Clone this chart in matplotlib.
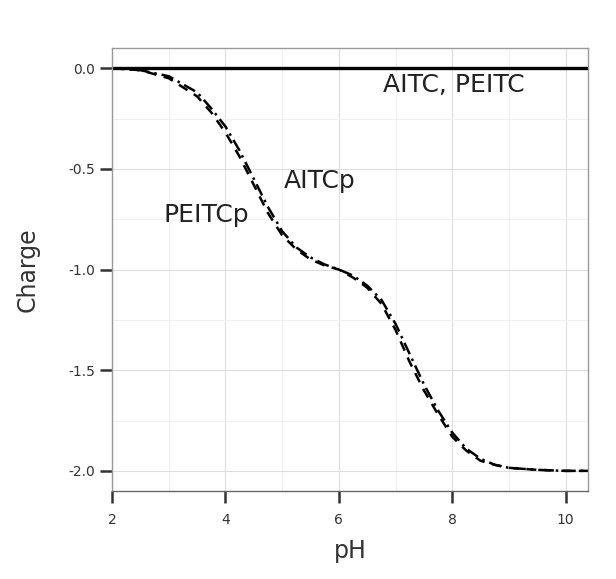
import matplotlib.pyplot as plt
from matplotlib.ticker import MultipleLocator

# pH grid and charge curves
ph = [2.0, 2.5, 3.0, 3.5, 3.75, 4.0, 4.25, 4.5, 4.75, 5.0, 5.25, 5.5, 5.75, 6.0,
      6.25, 6.5, 6.75, 7.0, 7.25, 7.5, 7.75, 8.0, 8.25, 8.5, 8.75, 9.0, 9.5, 10.0, 10.4]
charge_aitc = [0.0] * len(ph)
charge_aitcp = [0.0, -0.01, -0.05, -0.14, -0.22, -0.32, -0.44, -0.58, -0.72, -0.83,
                -0.90, -0.95, -0.98, -1.00, -1.04, -1.09, -1.17, -1.30, -1.46, -1.60,
                -1.72, -1.83, -1.90, -1.95, -1.97, -1.985, -1.995, -2.0, -2.0]
charge_peitcp = [0.0, -0.01, -0.04, -0.12, -0.20, -0.29, -0.41, -0.55, -0.69, -0.81,
                 -0.89, -0.94, -0.975, -1.00, -1.03, -1.08, -1.15, -1.27, -1.42, -1.57,
                 -1.70, -1.81, -1.89, -1.94, -1.97, -1.985, -1.995, -2.0, -2.0]

fig = plt.figure(figsize=(6.16, 5.79), dpi=100)
ax = fig.add_axes([0.182, 0.152, 0.773, 0.765])

ax.plot(ph, charge_aitc, color="black", lw=2.4, solid_capstyle="butt")
ax.plot(ph, charge_aitcp, color="black", lw=1.8, linestyle=(0, (4, 3)))
ax.plot(ph, charge_peitcp, color="black", lw=1.8, linestyle=(0, (5, 2, 1, 2)))

ax.text(8.03, -0.085, "AITC, PEITC", fontsize=18, ha="center", va="center", color="#222222")
ax.text(5.66, -0.56, "AITCp", fontsize=18, ha="center", va="center", color="#222222")
ax.text(3.67, -0.73, "PEITCp", fontsize=18, ha="center", va="center", color="#222222")

ax.set_xlim(2, 10.4)
ax.set_ylim(-2.1, 0.1)
ax.xaxis.set_minor_locator(MultipleLocator(1))
ax.yaxis.set_minor_locator(MultipleLocator(0.25))
ax.set_xticks([2, 4, 6, 8, 10])
ax.set_xticklabels(["2", "4", "6", "8", "10"])
ax.set_yticks([0.0, -0.5, -1.0, -1.5, -2.0])
ax.set_yticklabels(["0.0", "-0.5", "-1.0", "-1.5", "-2.0"])
ax.grid(which="major", color="#dddddd", lw=0.8)
ax.grid(which="minor", color="#eeeeee", lw=0.6)
ax.set_axisbelow(True)

for s in ax.spines.values():
    s.set_color("#999999")
    s.set_linewidth(1.0)
ax.spines["bottom"].set_color("#666666")

ax.tick_params(which="major", direction="out", length=8.5, width=1.8, color="#333333",
               labelsize=10, labelcolor="#333333", pad=4)
ax.tick_params(axis="x", pad=7)
ax.tick_params(which="minor", length=0)

ax.set_xlabel("pH", fontsize=17, color="#333333", labelpad=9)
ax.set_ylabel("Charge", fontsize=17, color="#333333", labelpad=20)

fig.savefig("out.png", dpi=100)
